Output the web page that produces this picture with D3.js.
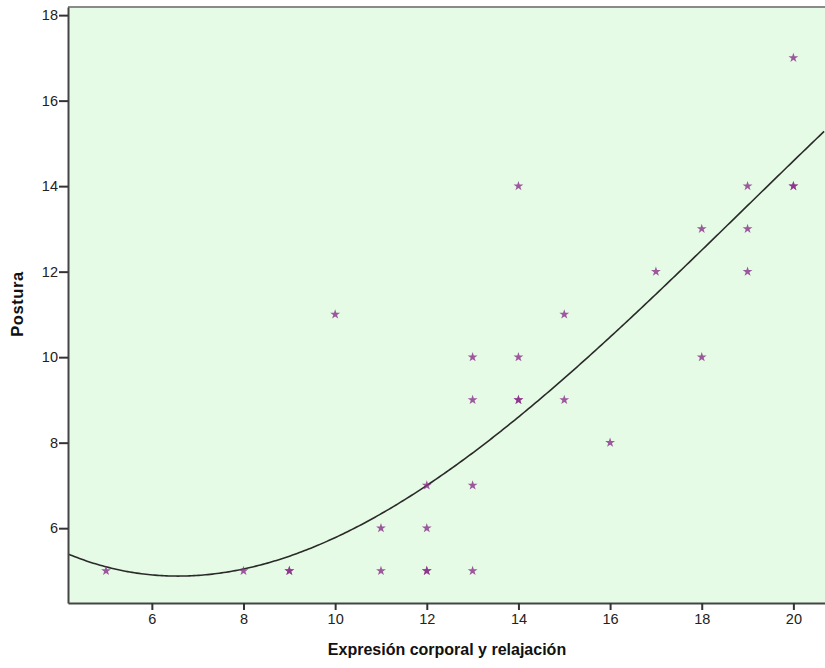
<!DOCTYPE html>
<html>
<head>
<meta charset="utf-8">
<script src="https://cdn.jsdelivr.net/npm/d3@7"></script>
<style>
  body { margin: 0; background: #fff; }
  svg { display: block; font-family: "Liberation Sans", Arial, sans-serif; }
</style>
</head>
<body>
<div id="chart"></div>
<script>
// data
var xVals = [5, 8, 9, 9, 10, 11, 11, 12, 12, 12, 12, 13, 13, 13, 13, 14, 14, 14, 14, 15, 15, 16, 17, 18, 18, 19, 19, 19, 20, 20, 20];
var yVals = [5, 5, 5, 5, 11, 6, 5, 7, 6, 5, 5, 10, 9, 7, 5, 14, 10, 9, 9, 11, 9, 8, 12, 13, 10, 14, 13, 12, 17, 14, 14];
var xTicks = [6, 8, 10, 12, 14, 16, 18, 20];
var yTicks = [6, 8, 10, 12, 14, 16, 18];
// cubic fit line as drawn, in powers of (x - 12)
var fitCoef = [7.0, 0.7143, 0.04736, -0.002261];

var width = 825, height = 668,
    margin = {top: 7, right: 0, bottom: 65, left: 68};

var x = d3.scaleLinear().domain([4.17, 20.69]).range([margin.left, width - margin.right]);
var y = d3.scaleLinear().domain([4.25, 18.19]).range([height - margin.bottom, margin.top]);

function fit(v) {
    var t = v - 12;
    return fitCoef[0] + fitCoef[1] * t + fitCoef[2] * t * t + fitCoef[3] * t * t * t;
}

var svg = d3.select("#chart").append("svg")
    .attr("width", width)
    .attr("height", height);

svg.append("rect")
    .attr("x", margin.left)
    .attr("y", margin.top)
    .attr("width", width - margin.left - margin.right)
    .attr("height", height - margin.top - margin.bottom)
    .style("fill", "#e6fbe6");

// top border
svg.append("line")
    .attr("x1", margin.left).attr("x2", width)
    .attr("y1", margin.top).attr("y2", margin.top)
    .style("stroke", "#8a8a8a").style("stroke-width", 2);

svg.append("clipPath").attr("id", "clip")
    .append("rect")
    .attr("x", margin.left).attr("y", margin.top)
    .attr("width", width - margin.left).attr("height", height - margin.top - margin.bottom);

var curvePts = d3.range(4.17, 20.7, 0.05);
svg.append("path")
    .datum(curvePts)
    .attr("clip-path", "url(#clip)")
    .attr("d", d3.line().x(function(d){ return x(d); }).y(function(d){ return y(fit(d)); }))
    .style("fill", "none")
    .style("stroke", "#2a2a2a")
    .style("stroke-width", 1.6);

var star = d3.symbol().type(d3.symbolStar).size(30);
svg.selectAll(".pt")
    .data(xVals)
    .enter()
    .append("path")
    .attr("class", "pt")
    .attr("d", star)
    .attr("transform", function(d, i){ return "translate(" + x(d) + "," + y(yVals[i]) + ")"; })
    .style("fill", "#8a2f8a")
    .style("fill-opacity", 0.8);

var xAxis = svg.append("g")
    .attr("transform", "translate(0," + (height - margin.bottom) + ")")
    .call(d3.axisBottom(x).tickValues(xTicks).tickSize(7).tickPadding(4).tickSizeOuter(0));
var yAxis = svg.append("g")
    .attr("transform", "translate(" + margin.left + ",0)")
    .call(d3.axisLeft(y).tickValues(yTicks).tickSize(9).tickPadding(1).tickSizeOuter(0));

[xAxis, yAxis].forEach(function(g) {
    g.select(".domain").style("stroke", "#444").style("stroke-width", 2);
    g.selectAll(".tick line").style("stroke", "#333").style("stroke-width", 2);
    g.selectAll(".tick text").style("font-size", "14.5px").style("fill", "#222")
        .style("font-family", "'Liberation Sans', Arial, sans-serif");
});

svg.append("text")
    .attr("x", 447)
    .attr("y", 655)
    .attr("text-anchor", "middle")
    .style("font-size", "16px")
    .style("font-weight", "bold")
    .style("fill", "#111")
    .text("Expresión corporal y relajación");

svg.append("text")
    .attr("transform", "translate(23,304) rotate(-90)")
    .attr("text-anchor", "middle")
    .style("font-size", "16.5px")
    .style("font-weight", "bold")
    .style("letter-spacing", "0.6px")
    .style("fill", "#111")
    .text("Postura");
</script>
</body>
</html>
